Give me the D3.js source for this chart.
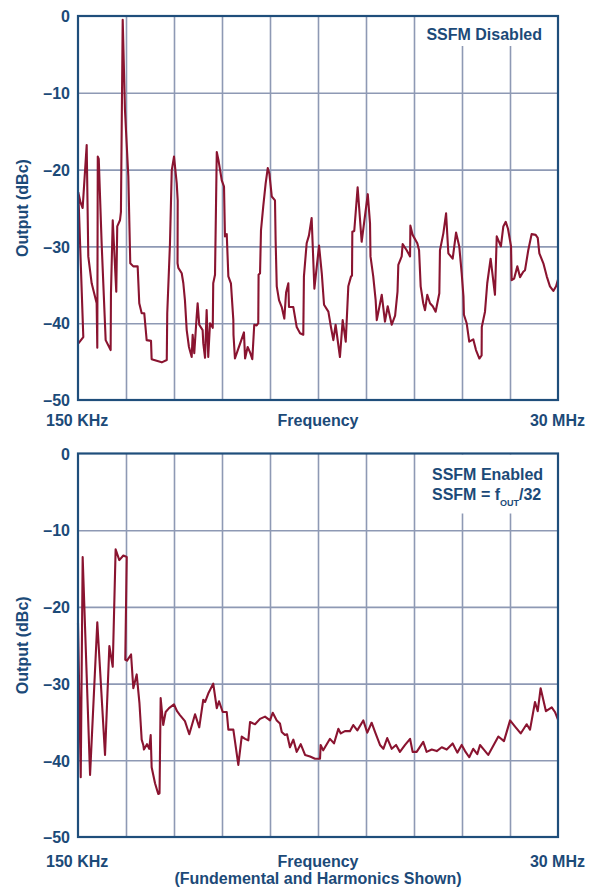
<!DOCTYPE html>
<html><head><meta charset="utf-8">
<script src="https://cdn.jsdelivr.net/npm/d3@7"></script>
<style>
body{margin:0;background:#fff}
text{font-family:"Liberation Sans",Arial,Helvetica,sans-serif;font-weight:bold;fill:#1c4a78}
</style>
</head><body>
<svg id="c" width="593" height="888"></svg>
<script>
// ---- data ----
const yTicks = [0, -10, -20, -30, -40, -50];
const freqRange = [0.15, 30];           // MHz
const gridDivisions = 10;
const xLabelsTop = ["150 KHz", "Frequency", "30 MHz"];
const xLabelsBottom = ["150 KHz", "Frequency", "30 MHz"];
const xSubLabelBottom = "(Fundemental and Harmonics Shown)";
const yTitle = "Output (dBc)";
const noteTop = ["SSFM Disabled"];
const noteBottom = ["SSFM Enabled", "SSFM = f", "OUT", "/32"];

// SSFM disabled trace
const disabledFreq = [0.15,0.48,0.17,0.31,0.44,0.69,0.79,1.00,1.31,1.35,1.38,1.44,1.62,1.87,2.18,2.20,2.31,2.53,2.59,2.76,2.82,2.93,3.07,3.28,3.40,3.59,3.86,3.96,4.11,4.27,4.42,4.69,4.73,5.04,5.36,5.67,5.70,5.87,5.98,6.12,6.29,6.35,6.34,6.39,6.60,6.70,6.80,6.91,7.05,7.22,7.28,7.38,7.53,7.59,7.69,7.90,7.94,8.05,8.15,8.25,8.36,8.53,8.56,8.67,8.78,8.88,9.09,9.23,9.29,9.40,9.50,9.66,9.81,9.82,9.91,10.12,10.29,10.47,10.54,10.70,10.85,10.99,11.11,11.26,11.36,11.38,11.47,11.53,11.67,11.82,11.95,12.05,12.20,12.40,12.44,12.51,12.65,12.82,12.98,13.09,13.23,13.27,13.54,13.75,13.96,14.16,14.20,14.37,14.51,14.68,14.85,15.14,15.31,15.45,15.72,15.88,16.03,16.17,16.44,16.61,16.80,16.96,17.13,17.19,17.21,17.33,17.54,17.79,18.17,18.31,18.34,18.51,18.66,18.73,19.04,19.24,19.41,19.66,19.87,20.02,20.07,20.28,20.34,20.59,20.80,20.82,20.96,21.25,21.36,21.46,21.62,21.73,21.87,22.04,22.21,22.39,22.62,22.66,22.87,23.04,23.18,23.45,23.66,23.86,24.01,24.12,24.15,24.32,24.48,24.73,24.90,25.11,25.25,25.26,25.46,25.60,25.81,26.08,26.19,26.45,26.60,26.75,26.89,27.08,27.12,27.27,27.47,27.64,27.84,27.95,28.15,28.36,28.61,28.74,28.84,29.09,29.30,29.50,29.71,29.88,30.00];
const disabledDb = [-42.7,-41.8,-23.0,-24.3,-25.0,-16.8,-31.3,-34.8,-37.4,-43.2,-18.3,-18.6,-29.6,-42.2,-43.5,-36.1,-26.6,-35.9,-27.4,-26.6,-25.5,-0.5,-12.2,-20.9,-32.2,-32.6,-32.6,-37.4,-38.7,-38.7,-42.2,-42.3,-44.7,-44.9,-45.1,-44.8,-38.7,-29.6,-20.1,-18.3,-21.8,-24.0,-32.2,-32.8,-33.5,-34.8,-37.0,-40.9,-43.1,-44.4,-41.5,-43.9,-39.1,-37.4,-40.2,-40.9,-42.6,-44.5,-38.3,-44.4,-40.0,-40.6,-34.8,-33.7,-17.7,-18.7,-21.4,-22.2,-28.7,-28.4,-33.9,-34.8,-39.6,-41.5,-44.6,-43.3,-42.3,-41.2,-44.6,-43.1,-43.8,-44.7,-40.2,-40.3,-40.0,-33.7,-33.5,-27.9,-24.8,-21.8,-19.8,-20.5,-23.5,-24.0,-29.2,-35.2,-37.0,-37.9,-39.4,-36.0,-34.8,-37.9,-37.9,-40.5,-41.3,-41.5,-33.9,-29.6,-28.6,-26.3,-35.5,-29.9,-33.5,-37.6,-38.5,-40.5,-42.2,-40.2,-44.4,-39.6,-42.4,-35.2,-33.9,-33.8,-28.1,-28.0,-22.3,-29.4,-23.2,-27.0,-31.3,-33.9,-37.0,-39.6,-36.3,-39.8,-37.8,-40.2,-39.0,-35.9,-32.4,-31.3,-29.7,-30.5,-31.3,-27.3,-28.5,-29.6,-30.5,-35.2,-37.4,-38.3,-36.3,-37.4,-37.8,-38.5,-36.1,-30.5,-28.3,-25.7,-30.9,-31.6,-28.2,-30.0,-33.5,-36.5,-38.9,-40.0,-42.4,-42.1,-43.5,-44.6,-44.2,-40.5,-38.5,-34.8,-31.6,-36.3,-28.7,-30.0,-27.4,-26.8,-27.7,-30.0,-34.4,-34.2,-32.6,-34.0,-33.3,-33.1,-30.5,-28.4,-28.5,-28.9,-30.9,-32.2,-33.9,-35.2,-35.8,-35.2,-34.3];

// SSFM enabled trace
const enabledFreq = [0.15,0.32,0.44,0.90,1.35,1.83,2.10,2.31,2.49,2.72,2.97,3.18,3.09,3.20,3.45,3.59,3.80,3.97,4.11,4.21,4.25,4.44,4.58,4.67,4.73,4.94,5.14,5.22,5.29,5.45,5.60,5.81,6.12,6.31,6.49,6.80,7.07,7.43,7.69,7.94,8.05,8.25,8.56,8.78,8.92,9.15,9.40,9.50,9.81,10.12,10.33,10.54,10.74,10.85,11.05,11.16,11.47,11.78,12.09,12.26,12.51,12.71,12.82,13.02,13.15,13.33,13.54,13.75,14.00,14.27,14.58,14.89,15.20,15.24,15.40,15.82,16.07,16.34,16.49,16.75,17.06,17.27,17.52,17.89,18.14,18.41,18.62,18.93,19.14,19.38,19.66,19.93,20.17,20.49,20.80,20.96,21.21,21.62,21.83,22.15,22.46,22.77,23.08,23.45,23.74,24.01,24.22,24.48,24.73,24.98,25.15,25.39,25.66,25.95,26.29,26.64,27.02,27.33,27.68,28.05,28.26,28.57,28.74,28.92,29.25,29.61,29.81,30.00];
const enabledDb = [-22.1,-42.2,-13.5,-41.9,-22.0,-39.3,-25.1,-27.8,-12.5,-13.9,-13.3,-13.5,-26.9,-27.0,-26.2,-30.6,-28.8,-32.5,-37.3,-38.0,-38.6,-37.9,-38.5,-36.7,-40.9,-43.0,-44.4,-44.3,-31.9,-35.4,-33.7,-33.2,-32.7,-33.6,-34.1,-34.9,-36.6,-34.0,-35.7,-32.1,-32.4,-31.3,-30.0,-33.2,-32.3,-33.7,-33.7,-36.0,-36.0,-40.6,-36.9,-37.2,-37.4,-35.0,-35.2,-35.3,-34.6,-34.3,-34.8,-33.8,-34.8,-35.2,-36.3,-36.7,-36.6,-38.3,-37.3,-38.9,-37.9,-39.3,-39.5,-39.8,-39.8,-38.0,-38.7,-37.2,-37.8,-35.9,-36.5,-36.2,-36.2,-35.4,-36.1,-34.8,-36.4,-35.1,-36.3,-38.0,-38.5,-37.1,-38.5,-38.0,-38.9,-38.0,-37.2,-38.9,-38.9,-37.6,-38.9,-38.6,-38.8,-38.3,-38.6,-37.8,-39.0,-38.0,-38.8,-39.6,-38.5,-39.2,-38.0,-38.6,-39.3,-38.2,-36.9,-37.5,-34.8,-35.6,-36.5,-35.3,-36.0,-32.4,-33.6,-30.6,-33.6,-33.1,-33.7,-34.7];

// ---- drawing ----
const C = {text:"#1c4a78", frame:"#1f4e7b", grid:"#8e99b4", line:"#8a1430"};
const svg = d3.select("#c");
const fmt = d => d < 0 ? "\u2013" + Math.abs(d) : String(d);

function panel(o){
  const g = svg.append("g");
  const x = d3.scaleLinear().domain(freqRange).range([o.left, o.right]);
  const y = d3.scaleLinear().domain([0, -50]).range([o.top, o.bottom]);
  const step = (freqRange[1]-freqRange[0])/gridDivisions;
  const xGrid = d3.range(1, gridDivisions).map(i => freqRange[0] + i*step);

  // grid lines via axes
  g.append("g").attr("transform", `translate(0,${o.bottom})`)
    .call(d3.axisBottom(x).tickValues(xGrid).tickSize(-(o.bottom-o.top)).tickFormat(""))
    .call(s => { s.select(".domain").remove(); s.selectAll("line").attr("stroke", C.grid).attr("stroke-width", 1.6); });
  g.append("g").attr("transform", `translate(${o.left},0)`)
    .call(d3.axisLeft(y).tickValues(yTicks.slice(1,-1)).tickSize(-(o.right-o.left)).tickFormat(""))
    .call(s => { s.select(".domain").remove(); s.selectAll("line").attr("stroke", C.grid).attr("stroke-width", 1.6); });

  // white box behind note
  g.append("rect").attr("x", 421).attr("y", o.top+1).attr("width", 132).attr("height", o.boxH).attr("fill", "#fff");

  // trace
  const pts = o.fx.map((f,i) => [f, o.db[i]]);
  g.append("path").datum(pts)
    .attr("d", d3.line().x(d => x(d[0])).y(d => y(d[1])))
    .attr("fill", "none").attr("stroke", C.line).attr("stroke-width", 2.1).attr("stroke-linejoin", "round");

  // frame
  g.append("rect").attr("x", o.left).attr("y", o.top).attr("width", o.right-o.left).attr("height", o.bottom-o.top)
    .attr("fill", "none").attr("stroke", C.frame).attr("stroke-width", 2.2);

  // y tick labels
  const ya = g.append("g").attr("transform", `translate(${o.left},0)`)
    .call(d3.axisLeft(y).tickValues(yTicks).tickSize(0).tickPadding(8).tickFormat(fmt));
  ya.select(".domain").remove();
  ya.selectAll("text").attr("font-size", 16).attr("font-family", "Liberation Sans, Arial, sans-serif")
    .attr("font-weight", "bold").attr("fill", C.text).attr("dy", "0.36em");

  // y title
  g.append("text").attr("transform", `translate(28,${(o.top+o.bottom)/2}) rotate(-90)`)
    .attr("text-anchor", "middle").attr("font-size", 16).text(yTitle);

  // x labels
  const lb = o.bottom + o.labGap;
  g.append("text").attr("x", 46).attr("y", lb).attr("font-size", 16).text(o.xl[0]);
  g.append("text").attr("x", (o.left+o.right)/2).attr("y", lb).attr("text-anchor", "middle").attr("font-size", 16).text(o.xl[1]);
  g.append("text").attr("x", 585).attr("y", lb).attr("text-anchor", "end").attr("font-size", 16).text(o.xl[2]);
  if (o.sub) g.append("text").attr("x", (o.left+o.right)/2).attr("y", lb+17.5).attr("text-anchor", "middle").attr("font-size", 16).text(o.sub);
  return g;
}

const gt = panel({left:78, right:558, top:16, bottom:400, fx:disabledFreq, db:disabledDb, boxH:29, xl:xLabelsTop, labGap:25.5});
gt.append("text").attr("x", 542).attr("y", 40).attr("text-anchor", "end").attr("font-size", 16).text(noteTop[0]);

const gb = panel({left:78, right:558, top:453.5, bottom:837, fx:enabledFreq, db:enabledDb, boxH:59, xl:xLabelsBottom, labGap:29.5, sub:xSubLabelBottom});
gb.append("text").attr("x", 432).attr("y", 479.5).attr("font-size", 16).text(noteBottom[0]);
const t2 = gb.append("text").attr("x", 432).attr("y", 500).attr("font-size", 16);
t2.append("tspan").text(noteBottom[1]);
t2.append("tspan").attr("font-size", 9).attr("dy", 6).text(noteBottom[2]);
t2.append("tspan").attr("dy", -6).text(noteBottom[3]);
</script>
</body></html>
